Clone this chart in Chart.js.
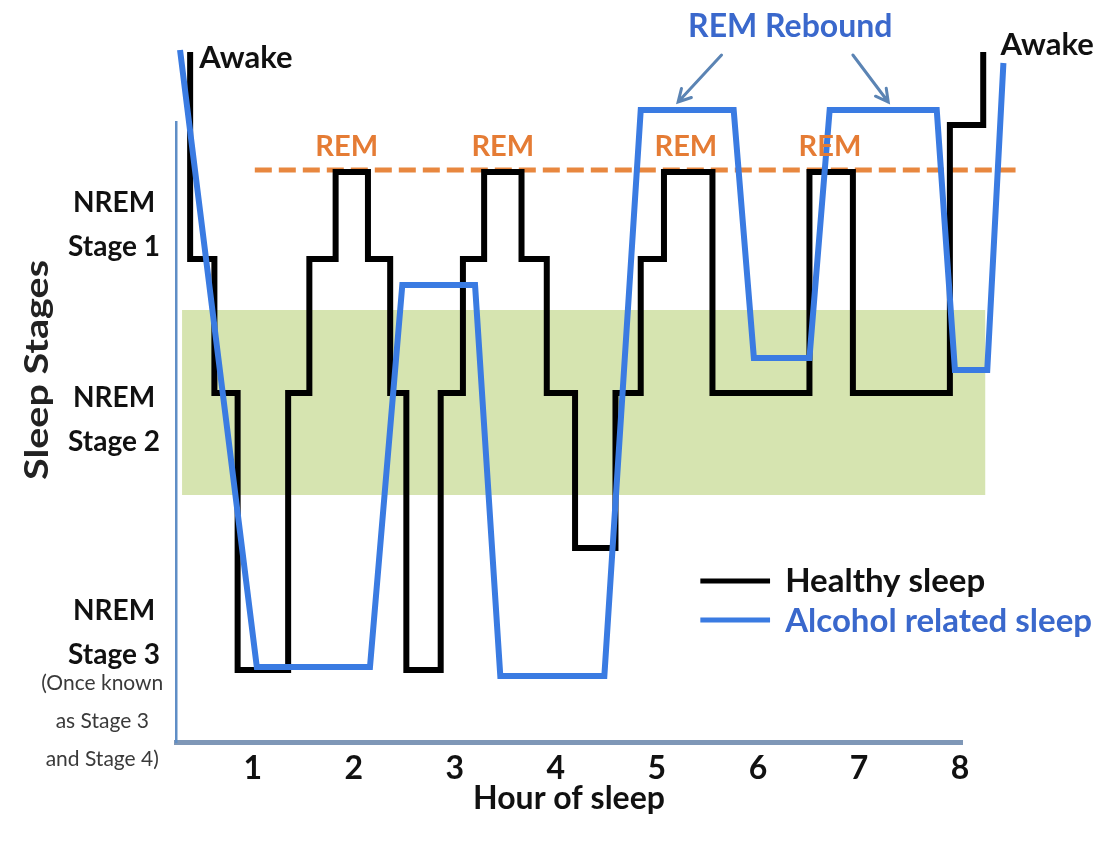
<!DOCTYPE html>
<html><head><meta charset="utf-8">
<script src="https://cdn.jsdelivr.net/npm/chart.js@4.4.1/dist/chart.umd.min.js"></script>
<style>html,body{margin:0;padding:0;background:#fff;}#wrap{width:1114px;height:851px;}</style>
</head><body><div id="wrap"><canvas id="c" width="1114" height="851"></canvas></div>
<script>
// ---- data ----
const hourTicks = [1, 2, 3, 4, 5, 6, 7, 8];
const hourLabels = ['1', '2', '3', '4', '5', '6', '7', '8'];
const stageTickValues = [5.17, 3.22, 1.09];
const stageTickLabels = [['NREM', 'Stage 1'], ['NREM', 'Stage 2'], ['NREM', 'Stage 3']];

// Healthy sleep: hour at which the stage changes, and the new stage level
const healthyHours  = [0.38, 0.38, 0.62, 0.85, 1.35, 1.56, 1.82, 2.14, 2.36, 2.52, 2.86, 3.08, 3.29, 3.66, 3.91, 4.19, 4.59, 4.84, 5.07, 5.55, 6.51, 6.94, 7.90, 8.23];
const healthyLevels = [6.90, 4.83, 3.49, 0.72, 3.49, 4.83, 5.70, 4.83, 3.49, 0.72, 3.49, 4.83, 5.70, 4.83, 3.49, 1.94, 3.49, 4.83, 5.70, 3.49, 5.70, 3.49, 6.17, 6.90];

// Alcohol related sleep
const alcoholHours  = [0.28, 1.04, 2.16, 2.48, 3.20, 3.45, 4.48, 4.84, 5.76, 5.96, 6.51, 6.71, 7.77, 7.95, 8.27, 8.43];
const alcoholLevels = [6.92, 0.75, 0.75, 4.57, 4.57, 0.66, 0.66, 6.32, 6.32, 3.84, 3.84, 6.32, 6.32, 3.72, 3.72, 6.79];

// REM reference line
const remLineHours  = [1.02, 8.55];
const remLineLevels = [5.72, 5.72];

// NREM Stage 2 band
const bandHours = [0.30, 8.25];
const bandTopLevel = 4.32;
const bandBottomLevel = 2.47;

const zip = (xs, ys) => xs.map((v, i) => ({x: v, y: ys[i]}));

const FONT = 'Lato';
const BLUE_LINE = '#3a7be2';
const BLUE_TEXT = '#3a68cc';
const ORANGE = '#e57c35';

const annotate = {
  id: 'annotate',
  afterDatasetsDraw(chart) {
    const {ctx, scales: {x, y}} = chart;
    const X = h => x.getPixelForValue(h);
    const Y = v => y.getPixelForValue(v);
    ctx.save();
    ctx.textBaseline = 'middle';

    // Awake labels
    ctx.fillStyle = '#111';
    ctx.font = `bold 31px ${FONT}`;
    ctx.textAlign = 'left';
    ctx.fillText('Awake', X(0.47), Y(6.84));
    ctx.fillText('Awake', X(8.40), Y(6.97));

    // REM labels
    ctx.fillStyle = ORANGE;
    ctx.font = `bold 29px ${FONT}`;
    ctx.textAlign = 'center';
    [1.93, 3.475, 5.287, 6.713].forEach(h => ctx.fillText('REM', X(h), Y(5.95)));

    // REM Rebound
    ctx.fillStyle = BLUE_TEXT;
    ctx.font = `bold 32px ${FONT}`;
    ctx.fillText('REM Rebound', X(6.32), Y(7.15));

    // arrows
    const arrow = (h1, v1, h2, v2) => {
      const x1 = X(h1), y1 = Y(v1), x2 = X(h2), y2 = Y(v2);
      const a = Math.atan2(y2 - y1, x2 - x1);
      ctx.strokeStyle = '#5b84b4';
      ctx.lineWidth = 3;
      ctx.lineCap = 'round';
      ctx.beginPath();
      ctx.moveTo(x1, y1); ctx.lineTo(x2, y2);
      ctx.moveTo(x2 - 14 * Math.cos(a - 0.5), y2 - 14 * Math.sin(a - 0.5));
      ctx.lineTo(x2, y2);
      ctx.lineTo(x2 - 14 * Math.cos(a + 0.5), y2 - 14 * Math.sin(a + 0.5));
      ctx.stroke();
    };
    arrow(5.64, 6.87, 5.21, 6.40);
    arrow(6.94, 6.87, 7.29, 6.40);

    // legend
    ctx.lineCap = 'butt';
    ctx.lineWidth = 5;
    ctx.strokeStyle = '#000';
    ctx.beginPath(); ctx.moveTo(X(5.43), Y(1.61)); ctx.lineTo(X(6.12), Y(1.61)); ctx.stroke();
    ctx.strokeStyle = BLUE_LINE;
    ctx.beginPath(); ctx.moveTo(X(5.43), Y(1.22)); ctx.lineTo(X(6.12), Y(1.22)); ctx.stroke();
    ctx.textAlign = 'left';
    ctx.font = `bold 33px ${FONT}`;
    ctx.fillStyle = '#111';
    ctx.fillText('Healthy sleep', X(6.27), Y(1.61));
    ctx.fillStyle = BLUE_TEXT;
    ctx.fillText('Alcohol related sleep', X(6.27), Y(1.21));

    // stage 3 note
    ctx.fillStyle = '#3a3a3a';
    ctx.font = `21px ${FONT}`;
    ctx.textAlign = 'center';
    ctx.fillText('(Once known', X(-0.49), Y(0.59));
    ctx.fillText('as Stage 3', X(-0.49), Y(0.21));
    ctx.fillText('and Stage 4)', X(-0.49), Y(-0.17));

    // y title
    ctx.save();
    ctx.translate(X(-1.136), Y(3.72));
    ctx.rotate(-Math.PI / 2);
    ctx.fillStyle = '#222';
    ctx.font = `bold 33px ${FONT}`;
    const w = ctx.measureText('Sleep Stages').width;
    const target = Math.abs(Y(2.62) - Y(4.82));
    ctx.scale(target / w, 1);
    ctx.fillText('Sleep Stages', 0, 0);
    ctx.restore();

    ctx.restore();
  }
};

new Chart(document.getElementById('c'), {
  type: 'line',
  data: {
    datasets: [
      {
        label: 'Alcohol related sleep',
        data: zip(alcoholHours, alcoholLevels),
        borderColor: BLUE_LINE, borderWidth: 6, pointRadius: 0,
        borderJoinStyle: 'miter', clip: false, order: 0, fill: false
      },
      {
        label: 'Healthy sleep',
        data: zip(healthyHours, healthyLevels),
        stepped: 'before',
        borderColor: '#000', borderWidth: 6, pointRadius: 0,
        borderJoinStyle: 'miter', clip: false, order: 1, fill: false
      },
      {
        label: 'REM',
        data: zip(remLineHours, remLineLevels),
        borderColor: '#e8873f', borderWidth: 5, borderDash: [17, 7], pointRadius: 0,
        clip: false, order: 2, fill: false
      },
      {
        label: 'NREM 2 band',
        data: zip(bandHours, bandHours.map(() => (bandTopLevel + bandBottomLevel) / 2)),
        borderColor: 'rgb(214,228,176)', borderCapStyle: 'butt', pointRadius: 0,
        borderWidth: (c) => {
          const ys = c.chart.scales.y;
          return ys ? Math.abs(ys.getPixelForValue(bandBottomLevel) - ys.getPixelForValue(bandTopLevel)) : 1;
        },
        fill: false, clip: false, order: 3
      }
    ]
  },
  options: {
    responsive: false,
    animation: false,
    devicePixelRatio: 1,
    layout: {padding: {left: 0, right: 152, top: 122, bottom: 0}},
    plugins: {legend: {display: false}, tooltip: {enabled: false}},
    scales: {
      x: {
        type: 'linear', bounds: 'data',
        afterDataLimits: s => { s.min = 0.24; s.max = 8.02; },
        grid: {display: false, drawTicks: false},
        border: {display: true, color: '#7f97b7', width: 5},
        afterFit: s => { s.height = 109; },
        afterBuildTicks: s => { s.ticks = hourTicks.map(v => ({value: v})); },
        ticks: {
          autoSkip: false, maxRotation: 0, padding: 7,
          color: '#111', font: {family: FONT, weight: 'bold', size: 32},
          callback: (v) => hourLabels[hourTicks.indexOf(v)]
        },
        title: {
          display: true, text: 'Hour of sleep', color: '#111',
          font: {family: FONT, weight: 'bold', size: 32},
          padding: {top: 0, bottom: 33}
        }
      },
      y: {
        type: 'linear', min: 0, max: 6.2,
        grid: {display: false, drawTicks: false},
        border: {display: true, color: '#5f8ec6', width: 2.5},
        afterFit: s => { s.width = 176; },
        afterBuildTicks: s => { s.ticks = stageTickValues.map(v => ({value: v})); },
        ticks: {
          autoSkip: false, crossAlign: 'center', padding: 16,
          color: '#111', font: {family: FONT, weight: 'bold', size: 28, lineHeight: 1.55},
          callback: (v) => stageTickLabels[stageTickValues.indexOf(v)]
        }
      }
    }
  },
  plugins: [annotate]
});
</script>
</body></html>
